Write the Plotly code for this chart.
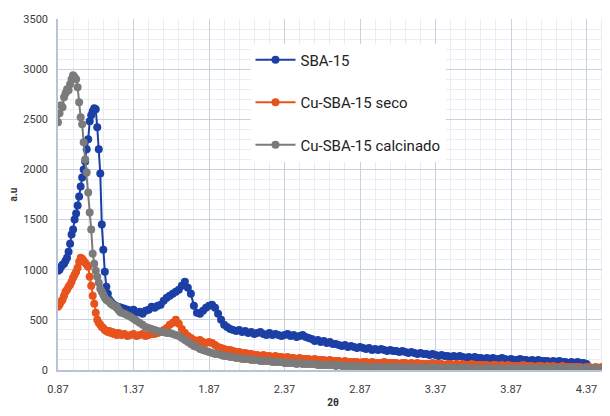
import numpy as np
import plotly.graph_objects as go

# sampling grid (2θ): fine steps over the peaks, then coarser
x_fine = np.round(np.arange(0.87, 1.295, 0.01), 2)
x_coarse = np.round(np.arange(1.31, 4.515, 0.02), 2)
two_theta = list(x_fine) + list(x_coarse)

sba15_fine = [990, 1000, 1030, 1050, 1060, 1090, 1120, 1180, 1260, 1350,
              1400, 1500, 1560, 1640, 1730, 1830, 1920, 2000, 2080, 2200,
              2300, 2480, 2540, 2580, 2610, 2600, 2420, 2200, 1960, 1450,
              1200, 980, 830, 760, 700, 680, 660, 650, 640, 620,
              630, 610, 620]
sba15_coarse = [610, 600, 590, 600, 570, 580, 560, 590, 600, 630,
                620, 640, 650, 690, 720, 740, 760, 780, 800, 840,
                880, 820, 760, 640, 570, 560, 590, 620, 640, 650,
                620, 560, 500, 450, 430, 410, 400, 390, 400, 380,
                390, 370, 380, 360, 370, 380, 360, 350, 370, 350,
                360, 350, 340, 350, 360, 340, 350, 330, 340, 350,
                330, 320, 310, 290, 300, 280, 290, 270, 280, 260,
                260, 250, 240, 250, 230, 240, 230, 220, 230, 220,
                210, 220, 200, 210, 200, 210, 200, 190, 200, 190,
                190, 180, 190, 180, 170, 180, 170, 160, 170, 160,
                160, 150, 160, 150, 140, 150, 140, 140, 130, 140,
                130, 140, 130, 120, 130, 120, 130, 120, 120, 110,
                120, 110, 120, 110, 110, 120, 110, 100, 110, 100,
                100, 110, 100, 100, 90, 100, 90, 100, 90, 90,
                90, 80, 90, 80, 90, 80, 80, 70, 80, 70,
                80, 70, 70, 60, None, None, None, None, None, None, None]

seco_fine = [630, 650, 680, 700, 740, 780, 800, 830, 850, 880,
             920, 950, 980, 1020, 1080, 1120, 1110, 1090, 1070, 1050,
             1030, 930, 840, 740, 660, 570, 500, 470, 450, 430,
             420, 400, 390, 380, 390, 370, 380, 360, 370, 350,
             370, 360, 350]
seco_coarse = [360, 340, 350, 360, 340, 350, 360, 340, 350, 360,
               360, 370, 380, 400, 420, 450, 470, 500, 460, 410,
               370, 340, 320, 300, 290, 300, 280, 270, 280, 270,
               250, 230, 220, 210, 200, 200, 190, 180, 180, 170,
               170, 160, 160, 150, 150, 140, 150, 140, 140, 130,
               140, 130, 130, 120, 130, 120, 120, 110, 120, 110,
               110, 110, 100, 110, 100, 100, 100, 90, 100, 90,
               90, 90, 80, 90, 80, 80, 80, 80, 70, 80,
               80, 70, 80, 70, 70, 70, 80, 70, 70, 70,
               70, 60, 70, 70, 60, 70, 60, 70, 60, 60,
               60, 60, 70, 60, 60, 60, 50, 60, 60, 50,
               60, 50, 60, 50, 50, 60, 50, 50, 50, 50,
               50, 40, 50, 50, 40, 50, 40, 50, 40, 40,
               40, 40, 50, 40, 40, 40, 30, 40, 40, 30,
               40, 30, 40, 30, 30, 40, 30, 30, 30, 30,
               30, 30, 20, 30, 30, 20, 30, 20, 30, 20, 20]

calc_fine = [2470, 2560, 2640, 2620, 2720, 2760, 2800, 2790, 2850, 2900,
             2940, 2920, 2900, 2820, 2670, 2520, 2450, 2270, 2100, 1970,
             1770, 1570, 1400, 1160, 1060, 990, 930, 870, 810, 780,
             750, 720, 700, 690, 680, 660, 650, 640, 635, 630,
             600, 580, 570]
calc_coarse = [560, 545, 530, 510, 490, 470, 450, 430, 420, 410,
               400, 390, 380, 380, 370, 370, 360, 350, 340, 320,
               300, 280, 260, 240, 230, 210, 200, 190, 180, 170,
               160, 160, 150, 140, 140, 130, 130, 120, 120, 110,
               110, 110, 100, 100, 100, 90, 90, 90, 90, 80,
               80, 80, 80, 70, 70, 70, 70, 60, 70, 60,
               60, 60, 60, 60, 50, 50, 50, 50, 50, 50,
               40, 50, 40, 40, 40, 40, 40, 40, 30, 40,
               30, 30, 30, 30, 30, 30, 30, 30, 30, 30,
               30, 30, 20, 30, 20, 30, 20, 20, 30, 20,
               20, 20, 30, 20, 20, 20, 20, 20, 20, 20,
               20, 20, 20, 20, 20, 10, 20, 20, 10, 20,
               10, 20, 10, 10, 20, 10, 10, 20, 10, 20,
               10, 20, 20, 10, 20, 20, 10, 20, 20, 10,
               20, 20, 10, 20, 10, 20, 20, 10, 20, 20,
               10, 20, 10, 20, 10, 20, 10, 10, 20, 10, 10]

sba15 = sba15_fine + sba15_coarse
seco = seco_fine + seco_coarse
calc = calc_fine + calc_coarse

series = [
    ("SBA-15", sba15, "#1c3fa6"),
    ("Cu-SBA-15 seco", seco, "#e8531d"),
    ("Cu-SBA-15 calcinado", calc, "#7b7b7b"),
]

fig = go.Figure()
for i, (name, vals, col) in enumerate(series):
    fig.add_trace(go.Scatter(
        x=two_theta, y=vals, name=name, mode="lines+markers",
        line=dict(color=col, width=2),
        marker=dict(color=col, size=8),
        legendgroup=str(i),
    ))

font_family = "Liberation Sans Narrow, Roboto, Arial, sans-serif"
fig.update_layout(
    width=610, height=416,
    margin=dict(l=50, r=10, t=11, b=54),
    paper_bgcolor="white", plot_bgcolor="white",
    font=dict(family=font_family, size=11, color="#3a3a3a"),
    showlegend=True,
    legend=dict(
        x=0.35, y=0.93, xanchor="left", yanchor="top",
        bgcolor="white", borderwidth=0,
        font=dict(size=15, color="#222"),
        tracegroupgap=20,
        itemwidth=40,
    ),
    xaxis=dict(
        range=[0.87, 4.512], tickmode="linear", tick0=0.87, dtick=0.5,
        tickformat=".2f", showgrid=True, gridcolor="#c9d0df", gridwidth=1,
        minor=dict(tick0=0.87, dtick=0.1, showgrid=True, gridcolor="#e9ecf2"),
        showline=True, linecolor="#b8c2d8", linewidth=1.5, zeroline=False,
        ticks="", ticklabelstandoff=8, automargin=False,
        title=dict(text="<b>2θ</b>", font=dict(size=10, color="#333"), standoff=4),
    ),
    yaxis=dict(
        range=[0, 3500], tickmode="linear", tick0=0, dtick=500,
        showgrid=True, gridcolor="#c9d0df", gridwidth=1,
        minor=dict(tick0=0, dtick=100, showgrid=True, gridcolor="#e9ecf2"),
        showline=True, linecolor="#b8c2d8", linewidth=1.5, zeroline=False,
        ticks="", ticklabelstandoff=6, automargin=False,
        title=dict(text="<b>a.u</b>", font=dict(size=10, color="#333"), standoff=14),
    ),
)

fig.write_html("out.html")
